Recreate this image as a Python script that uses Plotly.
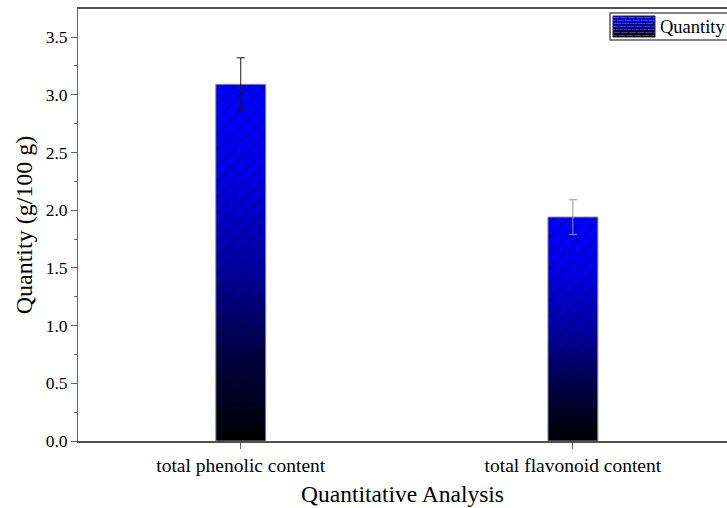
import plotly.graph_objects as go

# ---- data ----
categories = ["total phenolic content", "total flavonoid content"]
quantity = [3.09, 1.94]          # g/100 g
quantity_err = [0.23, 0.15]      # standard deviation
err_colors = ["rgb(25,25,25)", "rgb(150,150,150)"]
y_tick_values = [0.0, 0.5, 1.0, 1.5, 2.0, 2.5, 3.0, 3.5]
legend_name = "Quantity"

# ---- layout geometry ----
W, H = 727, 508
ML, MR, MT, MB = 78, 0, 9, 67
PW, PH = W - ML - MR, H - MT - MB
BAR_W = 0.15
X_RANGE = [-0.49, 1.464]
Y_RANGE = [0, 3.743]
FONT = "Liberation Serif, Times New Roman, serif"

GRAD = [[0.0, "rgb(0,0,0)"], [0.25, "rgb(0,0,70)"], [0.5, "rgb(0,0,165)"],
        [0.75, "rgb(0,0,230)"], [1.0, "rgb(0,0,255)"]]
HATCH = "rgba(0,0,20,0.8)"


def px_to_paper(px, py):
    return (px - ML) / PW, (H - MB - py) / PH


def grad_color(t):
    for (a, ca), (b, cb) in zip(GRAD[:-1], GRAD[1:]):
        if a <= t <= b:
            f = (t - a) / (b - a)
            va = [int(s) for s in ca[4:-1].split(",")]
            vb = [int(s) for s in cb[4:-1].split(",")]
            return "rgb(%d,%d,%d)" % tuple(round(p + (q - p) * f) for p, q in zip(va, vb))
    return GRAD[-1][1]


fig = go.Figure()
xs = list(range(len(categories)))

for i, v in zip(xs, quantity):
    bx = [i - BAR_W / 2, i - BAR_W / 2, i + BAR_W / 2, i + BAR_W / 2, i - BAR_W / 2]
    by = [0, v, v, 0, 0]
    # gradient body of the bar
    fig.add_trace(go.Scatter(
        x=bx, y=by, mode="lines", fill="toself", line=dict(width=0),
        fillgradient=dict(type="vertical", colorscale=GRAD, start=0, stop=v),
        hoverinfo="skip", showlegend=False))
    # diagonal hatching and outline
    fig.add_trace(go.Scatter(
        x=bx, y=by, mode="lines", fill="toself", fillcolor="rgba(0,0,0,0)",
        fillpattern=dict(shape="/", size=11, solidity=0.1, fgcolor=HATCH),
        line=dict(color="rgb(130,130,140)", width=1),
        name=legend_name, showlegend=False))

# error bars
for i, v, e, col in zip(xs, quantity, quantity_err, err_colors):
    fig.add_trace(go.Scatter(
        x=[i], y=[v], mode="markers", marker=dict(size=1, opacity=0),
        error_y=dict(type="data", array=[e], color=col, thickness=1, width=4),
        showlegend=False))

# ---- legend box drawn with shapes ----
shapes = []
lx0, ly0 = px_to_paper(610, 40)
lx1, ly1 = px_to_paper(735, 13)
shapes.append(dict(type="rect", xref="paper", yref="paper", x0=lx0, x1=lx1, y0=ly0, y1=ly1,
                   line=dict(color="rgb(90,90,90)", width=1.5), fillcolor="white", layer="above"))
sx0, sx1, sy_top, sy_bot = 613, 655, 16, 37
n_strips = 14
for k in range(n_strips):
    t0 = sy_bot - (sy_bot - sy_top) * k / n_strips
    t1 = sy_bot - (sy_bot - sy_top) * (k + 1) / n_strips
    a0, b0 = px_to_paper(sx0, t0)
    a1, b1 = px_to_paper(sx1, t1)
    shapes.append(dict(type="rect", xref="paper", yref="paper", x0=a0, x1=a1, y0=b0, y1=b1,
                       line=dict(width=0), fillcolor=grad_color((k + 0.5) / n_strips), layer="above"))
hgt = sy_bot - sy_top
c = sx0 - hgt
while c < sx1:
    # hatch line px = c + (sy_bot - py), clipped to the swatch box
    start_x = max(sx0, c)
    end_x = min(sx1, c + hgt)
    if end_x > start_x:
        a0, b0 = px_to_paper(start_x, sy_bot - (start_x - c))
        a1, b1 = px_to_paper(end_x, sy_bot - (end_x - c))
        shapes.append(dict(type="line", xref="paper", yref="paper", x0=a0, y0=b0, x1=a1, y1=b1,
                           line=dict(color=HATCH, width=1), layer="above"))
    c += 8
a0, b0 = px_to_paper(sx0, sy_bot)
a1, b1 = px_to_paper(sx1, sy_top)
shapes.append(dict(type="rect", xref="paper", yref="paper", x0=a0, x1=a1, y0=b0, y1=b1,
                   line=dict(color="rgb(40,40,40)", width=1), fillcolor="rgba(0,0,0,0)", layer="above"))
tx, ty = px_to_paper(658, 27)
annotations = [dict(xref="paper", yref="paper", x=tx, y=ty, xanchor="left", yanchor="middle",
                    text=legend_name, showarrow=False, font=dict(family=FONT, size=18.5, color="black"))]

axis_line = "rgb(100,100,100)"
fig.update_layout(
    width=W, height=H,
    margin=dict(l=ML, r=MR, t=MT, b=MB, autoexpand=False),
    paper_bgcolor="white", plot_bgcolor="white",
    font=dict(family=FONT, color="black"),
    showlegend=False,
    shapes=shapes, annotations=annotations,
    xaxis=dict(
        range=X_RANGE, tickvals=xs, ticktext=categories,
        showline=True, linecolor="rgb(80,80,80)", linewidth=1.5, mirror=True,
        ticks="outside", ticklen=6, tickcolor=axis_line, tickwidth=1,
        showgrid=False, zeroline=False, tickfont=dict(size=19.5),
        title=dict(text="Quantitative Analysis", font=dict(size=23.5), standoff=10),
    ),
    yaxis=dict(
        range=Y_RANGE, tickvals=y_tick_values,
        ticktext=["%.1f" % t for t in y_tick_values],
        showline=True, linecolor=axis_line, linewidth=1,
        ticks="outside", ticklen=6, tickcolor=axis_line, tickwidth=1,
        minor=dict(dtick=0.25, tick0=0, ticks="outside", ticklen=3, tickcolor=axis_line),
        showgrid=False, zeroline=False, tickfont=dict(size=17.5),
        title=dict(text="Quantity (g/100 g)", font=dict(size=24), standoff=6),
    ),
)

fig.write_html("out.html")
